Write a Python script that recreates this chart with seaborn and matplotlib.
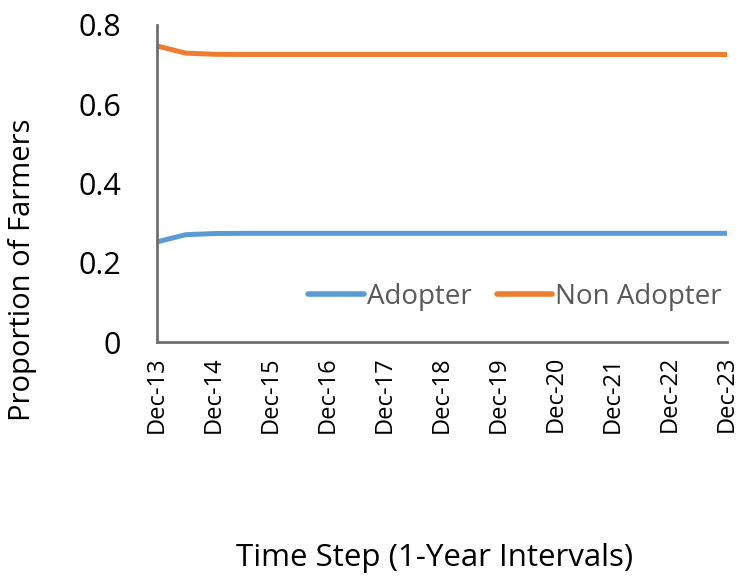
import matplotlib
matplotlib.use("Agg")
import matplotlib.pyplot as plt
import seaborn as sns
import pandas as pd

# Half-year time steps from Dec-13 to Dec-23
steps = [i * 0.5 for i in range(21)]
tick_labels = ["Dec-13", "Dec-14", "Dec-15", "Dec-16", "Dec-17", "Dec-18",
               "Dec-19", "Dec-20", "Dec-21", "Dec-22", "Dec-23"]
adopter = [0.253, 0.271, 0.274, 0.2745, 0.2745, 0.2745, 0.2745, 0.2745,
           0.2745, 0.2745, 0.2745, 0.2745, 0.2745, 0.2745, 0.2745, 0.2745,
           0.2745, 0.2745, 0.2745, 0.2745, 0.2745]
non_adopter = [0.747, 0.729, 0.726, 0.7255, 0.7255, 0.7255, 0.7255, 0.7255,
               0.7255, 0.7255, 0.7255, 0.7255, 0.7255, 0.7255, 0.7255, 0.7255,
               0.7255, 0.7255, 0.7255, 0.7255, 0.7255]
y_ticks = [0, 0.2, 0.4, 0.6, 0.8]
y_tick_labels = ["0", "0.2", "0.4", "0.6", "0.8"]

df = pd.DataFrame({
    "step": steps * 2,
    "value": adopter + non_adopter,
    "series": ["Adopter"] * len(steps) + ["Non Adopter"] * len(steps),
})

sns.set_theme(style="white")
plt.rcParams["font.family"] = ["Open Sans", "DejaVu Sans"]

fig = plt.figure(figsize=(7.41, 5.80), dpi=100)
ax = fig.add_axes([0.212, 0.410, 0.769, 0.547])

sns.lineplot(data=df, x="step", y="value", hue="series",
             palette={"Adopter": "#5B9BD5", "Non Adopter": "#ED7D31"},
             linewidth=3.6, ax=ax, legend=False)

ax.set_xlim(0, 10)
ax.set_ylim(0, 0.8)
ax.set_xticks(range(11))
ax.set_xticklabels(tick_labels, rotation=90, fontsize=17, color="black")
ax.set_yticks(y_ticks)
ax.set_yticklabels(y_tick_labels, fontsize=22, color="black")
ax.set_xlabel("")
ax.set_ylabel("")

for side in ["top", "right"]:
    ax.spines[side].set_visible(False)
for side in ["left", "bottom"]:
    ax.spines[side].set_color("#6f6f6f")
    ax.spines[side].set_linewidth(2.0)
ax.tick_params(axis="x", direction="out", length=8, width=2, color="#6f6f6f", pad=2)
ax.tick_params(axis="y", length=0, pad=26)

handles = [plt.Line2D([], [], color="#5B9BD5", lw=4, solid_capstyle="round"),
           plt.Line2D([], [], color="#ED7D31", lw=4, solid_capstyle="round")]
leg = ax.legend(handles, ["Adopter", "Non Adopter"], ncol=2, frameon=False,
                loc="center", bbox_to_anchor=(0.628, 0.142), fontsize=20,
                handlelength=2.0, handletextpad=0.1, columnspacing=0.9,
                labelcolor="#595959", borderaxespad=0, borderpad=0)

fig.text(0.030, 0.535, "Proportion of Farmers", rotation=90, fontsize=21,
         ha="center", va="center", color="black")
fig.text(0.587, 0.038, "Time Step (1-Year Intervals)", fontsize=22.5,
         ha="center", va="center", color="black")

fig.savefig("out.png", dpi=100)
